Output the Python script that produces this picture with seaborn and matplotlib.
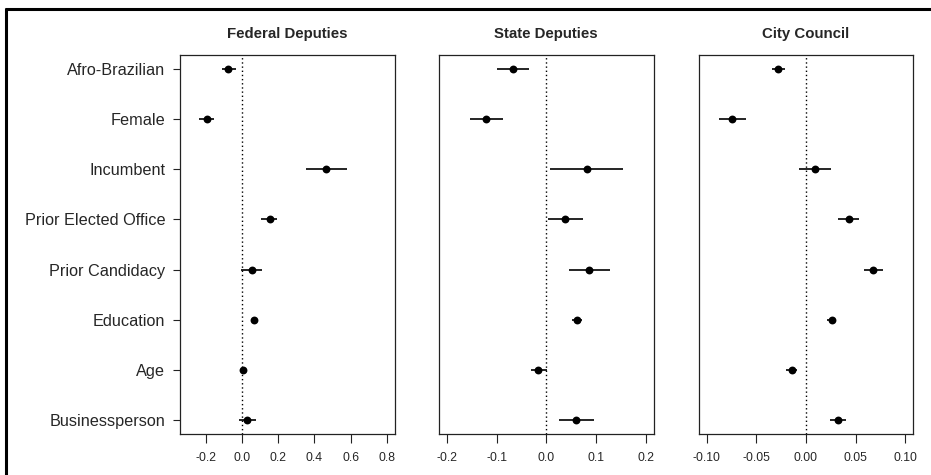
import numpy as np
import pandas as pd
import matplotlib
matplotlib.use("Agg")
import matplotlib.pyplot as plt
import seaborn as sns
from matplotlib.lines import Line2D

sns.set_style("ticks")
plt.rcParams['font.family'] = ['Liberation Sans', 'DejaVu Sans']

variables = ["Afro-Brazilian", "Female", "Incumbent", "Prior Elected Office",
             "Prior Candidacy", "Education", "Age", "Businessperson"]
panels = ["Federal Deputies", "State Deputies", "City Council"]

fed_est = [-0.076, -0.196, 0.467, 0.152, 0.057, 0.063, 0.002, 0.026]
fed_lo = [-0.113, -0.237, 0.352, 0.106, -0.005, 0.053, -0.006, -0.020]
fed_hi = [-0.033, -0.156, 0.581, 0.193, 0.109, 0.073, 0.010, 0.076]

state_est = [-0.067, -0.121, 0.081, 0.038, 0.086, 0.062, -0.016, 0.060]
state_lo = [-0.099, -0.154, 0.008, 0.003, 0.045, 0.052, -0.030, 0.025]
state_hi = [-0.035, -0.087, 0.155, 0.074, 0.128, 0.071, 0.001, 0.097]

city_est = [-0.0282, -0.0742, 0.0087, 0.043, 0.0678, 0.0259, -0.0144, 0.032]
city_lo = [-0.034, -0.088, -0.0074, 0.032, 0.0587, 0.021, -0.0198, 0.0245]
city_hi = [-0.0215, -0.060, 0.0255, 0.053, 0.077, 0.0305, -0.0094, 0.040]

fed_ticks = [-0.2, 0.0, 0.2, 0.4, 0.6, 0.8]
fed_ticklabels = ["-0.2", "0.0", "0.2", "0.4", "0.6", "0.8"]
state_ticks = [-0.2, -0.1, 0.0, 0.1, 0.2]
state_ticklabels = ["-0.2", "-0.1", "0.0", "0.1", "0.2"]
city_ticks = [-0.10, -0.05, 0.0, 0.05, 0.10]
city_ticklabels = ["-0.10", "-0.05", "0.00", "0.05", "0.10"]

data_sets = [(fed_est, fed_lo, fed_hi), (state_est, state_lo, state_hi),
             (city_est, city_lo, city_hi)]
tick_sets = [(fed_ticks, fed_ticklabels), (state_ticks, state_ticklabels),
             (city_ticks, city_ticklabels)]
ranges = [(-0.3, 0.8), (-0.2, 0.2), (-0.1, 0.1)]

fig = plt.figure(figsize=(9.31, 4.75), dpi=100)
lefts = [180 / 931, 439 / 931, 698.7 / 931]
width = 214.6 / 931
bottom = 1 - 434 / 475
height = (434 - 55) / 475

pos = np.arange(1, len(variables) + 1)
for i, (title, (est, lo, hi), (tk, tl), (r0, r1)) in enumerate(
        zip(panels, data_sets, tick_sets, ranges)):
    ax = fig.add_axes([lefts[i], bottom, width, height])
    df = pd.DataFrame({"variable": variables, "pos": pos,
                       "est": est, "lo": lo, "hi": hi})
    ax.axvline(0, ls=(0, (1, 2)), lw=1.0, color="black", zorder=1)
    ax.hlines(df["pos"], df["lo"], df["hi"], color="black", lw=1.2, zorder=2)
    sns.scatterplot(data=df, x="est", y="pos", ax=ax, color="black",
                    s=32, linewidth=0, zorder=3, legend=False)
    pad = (r1 - r0) * 0.04
    ax.set_xlim(r0 - pad, r1 + pad)
    ax.set_ylim(8.28, 0.72)
    ax.set_xticks(tk)
    ax.set_xticklabels(tl, fontsize=8.8)
    ax.tick_params(axis="x", length=6.5, width=0.8, pad=6.5, color="#222222")
    if i == 0:
        ax.set_yticks(pos)
        ax.set_yticklabels(variables, fontsize=11.7)
        ax.tick_params(axis="y", length=5, width=0.8, pad=5.5, color="#222222")
    else:
        ax.set_yticks([])
    ax.set_xlabel("")
    ax.set_ylabel("")
    ax.set_title(title, fontsize=10.8, fontweight="bold", pad=12)
    for sp in ax.spines.values():
        sp.set_visible(True)
        sp.set_linewidth(0.9)
        sp.set_color("#222222")

# outer frame (top and left edges visible)
fig.add_artist(Line2D([5 / 931, 1.0], [1 - 8.5 / 475, 1 - 8.5 / 475],
                      transform=fig.transFigure, color="black", lw=2.2,
                      solid_capstyle="butt"))
fig.add_artist(Line2D([6 / 931, 6 / 931], [0.0, 1 - 7.5 / 475],
                      transform=fig.transFigure, color="black", lw=2.2,
                      solid_capstyle="butt"))

fig.savefig("out.png", dpi=100, facecolor="white")
